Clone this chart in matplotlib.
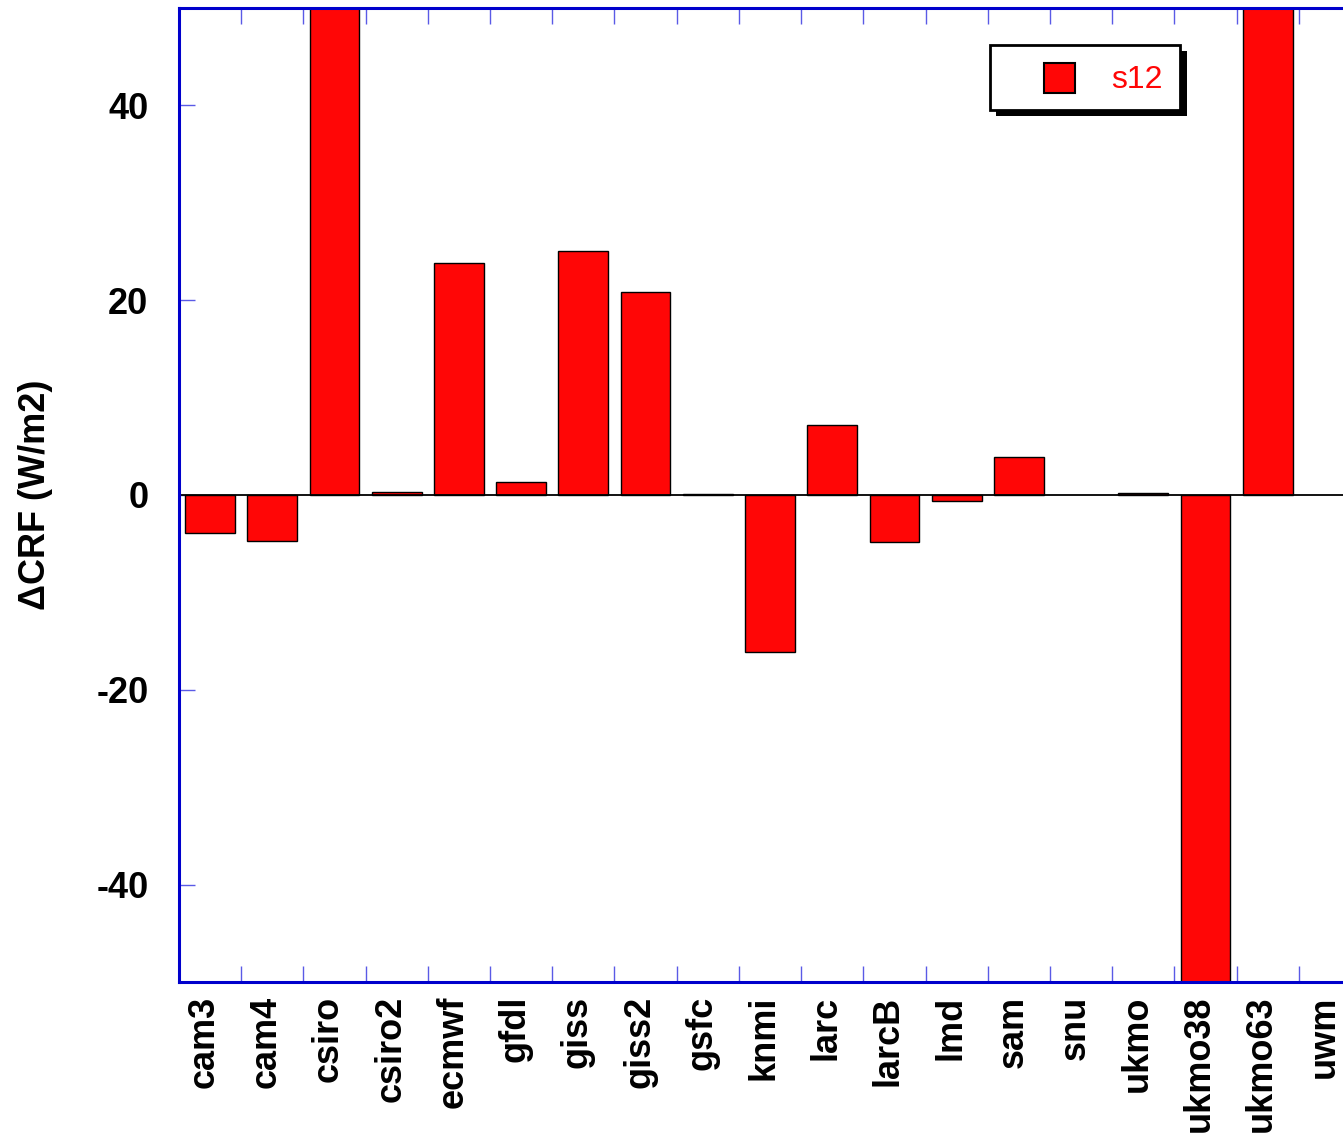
import numpy as np
import matplotlib
matplotlib.use("Agg")
import matplotlib.pyplot as plt
import matplotlib.transforms as mtransforms
from matplotlib.patches import Rectangle
from matplotlib.ticker import FixedLocator, NullFormatter

# Cloud radiative forcing change per model, scenario s12
models = ["cam3", "cam4", "csiro", "csiro2", "ecmwf", "gfdl", "giss", "giss2",
          "gsfc", "knmi", "larc", "larcB", "lmd", "sam", "snu", "ukmo",
          "ukmo38", "ukmo63", "uwm"]
dcrf_s12 = [-3.9, -4.7, 62.0, 0.3, 23.8, 1.3, 25.1, 20.8,
            0.1, -16.1, 7.2, -4.8, -0.6, 3.9, np.nan, 0.2,
            -58.0, 64.0, np.nan]
yticks = [-40, -20, 0, 20, 40]
series_name = "s12"

W, H = 1343, 1146
fig = plt.figure(figsize=(W / 100, H / 100), dpi=100)
plt.rcParams["font.family"] = ["Liberation Sans", "DejaVu Sans"]

# axes box in pixels: left 179, right 1361 (runs past the figure edge), top 8, bottom 982
ax = fig.add_axes([179 / W, 1 - 982 / H, (1361 - 179) / W, (982 - 8) / H])

blue = "#0000cc"
tick_blue = "#5a5ae6"
red = "#ff0606"

x = np.arange(len(models))
ax.bar(x, dcrf_s12, width=0.8, color=red, edgecolor="black", linewidth=1.0, zorder=2)
ax.axhline(0, color="black", linewidth=1.3, zorder=3)

ax.set_xlim(-0.5, len(models) - 0.5)
ax.set_ylim(-50, 50)

for side in ["left", "top", "bottom", "right"]:
    ax.spines[side].set_color(blue)
    ax.spines[side].set_linewidth(2.2)
    ax.spines[side].set_zorder(5)

# x: tick marks on category boundaries, names under each category
ax.xaxis.set_major_locator(FixedLocator(np.arange(0.5, len(models) - 0.5, 1.0)))
ax.xaxis.set_major_formatter(NullFormatter())
ax.tick_params(axis="x", which="major", direction="in", length=11.5, width=1.0,
               color=tick_blue, top=True, bottom=True)

name_tf = (mtransforms.blended_transform_factory(ax.transData, ax.transAxes)
           + mtransforms.ScaledTranslation(-6 / 100, -14 / 100, fig.dpi_scale_trans))
for xi, name in zip(x, models):
    ax.text(xi, 0, name, transform=name_tf, rotation=90, ha="center", va="top",
            fontsize=26, fontweight="bold", clip_on=False)

ax.set_yticks(yticks)
ax.set_yticklabels([str(v) for v in yticks])
ax.tick_params(axis="y", which="major", direction="in", length=11.5, width=1.0,
               color=tick_blue, left=True, right=True, pad=22, labelsize=26)
for lbl in ax.get_yticklabels():
    lbl.set_fontweight("bold")

fig.text(36 / W, 1 - 495 / H, "\u0394CRF (W/m2)", rotation=90, ha="center", va="center",
         fontsize=26, fontweight="bold")

# legend box with solid drop shadow
def fx(px):
    return px / W

def fy(py):
    return 1 - py / H

shadow = Rectangle((fx(996), fy(116)), fx(1187) - fx(996), fy(51) - fy(116),
                   transform=fig.transFigure, facecolor="black", edgecolor="none", zorder=10)
box = Rectangle((fx(990), fy(110)), fx(1180) - fx(990), fy(45) - fy(110),
                transform=fig.transFigure, facecolor="white", edgecolor="black",
                linewidth=2.0, zorder=11)
swatch = Rectangle((fx(1044), fy(93)), fx(1075) - fx(1044), fy(63) - fy(93),
                   transform=fig.transFigure, facecolor=red, edgecolor="black",
                   linewidth=1.5, zorder=12)
for p in (shadow, box, swatch):
    fig.add_artist(p)
fig.text(fx(1111), fy(80), series_name, color=red, fontsize=23, ha="left", va="center",
         zorder=13)

fig.savefig("out.png", dpi=100)
